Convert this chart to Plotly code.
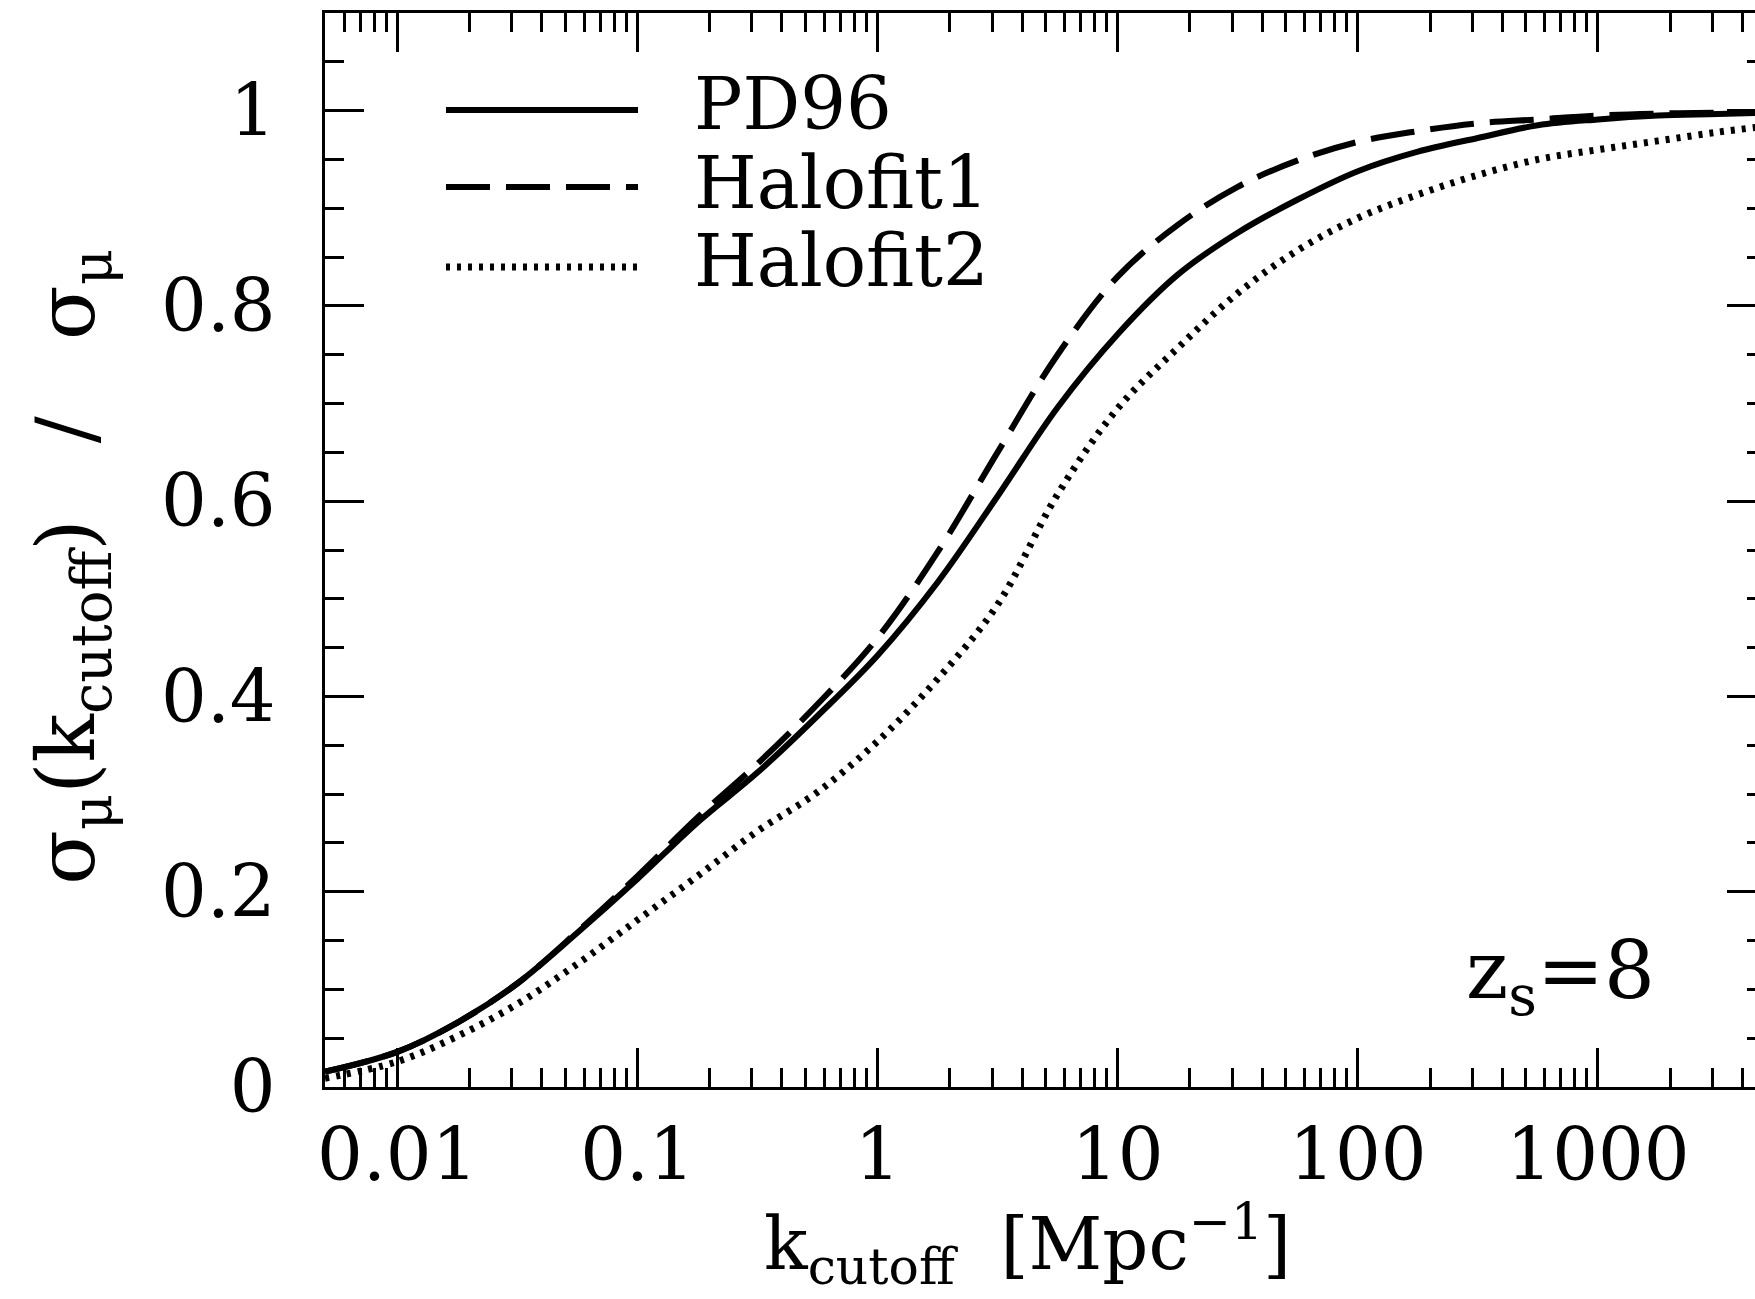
import plotly.graph_objects as go

# k_cutoff values [Mpc^-1]
k_cutoff = [0.005, 0.01, 0.0178, 0.0316, 0.0562, 0.1, 0.178, 0.316, 0.562, 1.0,
            1.78, 3.16, 5.62, 10.0, 17.8, 31.6, 56.2, 100.0, 178.0, 316.0, 562.0,
            1000.0, 1780.0, 3160.0, 5000.0]

pd96 = [0.0157, 0.036, 0.066, 0.106, 0.158, 0.213, 0.271, 0.322, 0.380, 0.442,
        0.517, 0.605, 0.696, 0.771, 0.832, 0.875, 0.909, 0.938, 0.958, 0.972,
        0.985, 0.991, 0.995, 0.9965, 0.998]

halofit1 = [0.0157, 0.036, 0.066, 0.106, 0.159, 0.216, 0.276, 0.331, 0.392, 0.460,
            0.548, 0.650, 0.750, 0.830, 0.883, 0.922, 0.949, 0.968, 0.979, 0.987,
            0.991, 0.995, 0.997, 0.998, 0.998]

halofit2 = [0.009, 0.026, 0.052, 0.085, 0.126, 0.171, 0.216, 0.262, 0.302, 0.354,
            0.418, 0.494, 0.607, 0.695, 0.757, 0.813, 0.857, 0.890, 0.914, 0.934,
            0.950, 0.960, 0.969, 0.978, 0.984]

series_names = ["PD96", "Halofit1", "Halofit2"]
x_tick_vals = [0.01, 0.1, 1, 10, 100, 1000]
x_tick_text = ["0.01", "0.1", "1", "10", "100", "1000"]
x_minor_vals = [m * 10.0 ** e for e in range(-3, 4) for m in range(2, 10)]
y_tick_vals = [0, 0.2, 0.4, 0.6, 0.8, 1.0]
y_tick_text = ["0", "0.2", "0.4", "0.6", "0.8", "1"]
y_minor_vals = [0.05, 0.1, 0.15, 0.25, 0.3, 0.35, 0.45, 0.5, 0.55, 0.65, 0.7, 0.75,
                0.85, 0.9, 0.95, 1.05]

FONT = "DejaVu Serif"
FS = 72
dashes = ["solid", "44px,16px", "4px,7px"]
widths = [6, 6, 7]
X_RANGE = [-2.301, 3.654]
Y_RANGE = [0, 1.1]

fig = go.Figure()
for name, ys, dash, w in zip(series_names, [pd96, halofit1, halofit2], dashes, widths):
    fig.add_trace(go.Scatter(x=k_cutoff, y=ys, mode="lines", name=name,
                             line=dict(color="black", width=w, dash=dash, shape="spline"),
                             showlegend=False, hoverinfo="skip"))

# empty helper traces so that the extra tick-only axes are drawn
for xa, ya in [("x2", "y"), ("x3", "y"), ("x4", "y"), ("x", "y2"), ("x", "y3"), ("x", "y4")]:
    fig.add_trace(go.Scatter(x=[None], y=[None], xaxis=xa, yaxis=ya, showlegend=False,
                             hoverinfo="skip"))

tickfont = dict(family=FONT, size=FS, color="black")


def tick_axis(vals, length, **kw):
    d = dict(tickmode="array", tickvals=vals, showticklabels=False, ticks="inside",
             ticklen=length, tickwidth=3, tickcolor="black", showgrid=False,
             zeroline=False, showline=False)
    d.update(kw)
    return d


fig.update_layout(
    width=1755, height=1299,
    margin=dict(l=325, r=0, t=13, b=212),
    paper_bgcolor="white", plot_bgcolor="white",
    xaxis=dict(type="log", range=X_RANGE, tickmode="array",
               tickvals=x_tick_vals, ticktext=x_tick_text,
               ticks="inside", ticklen=39, tickwidth=3, tickcolor="black",
               showline=True, linewidth=3, linecolor="black", mirror=True,
               showgrid=False, zeroline=False, tickfont=tickfont,
               ticklabelstandoff=4),
    xaxis2=tick_axis(x_minor_vals, 19, type="log", range=X_RANGE, overlaying="x",
                     side="bottom", anchor="y"),
    xaxis3=tick_axis(x_tick_vals, 39, type="log", range=X_RANGE, overlaying="x",
                     side="top", anchor="y"),
    xaxis4=tick_axis(x_minor_vals, 19, type="log", range=X_RANGE, overlaying="x",
                     side="top", anchor="y"),
    yaxis=dict(range=Y_RANGE, tickmode="array", tickvals=y_tick_vals, ticktext=y_tick_text,
               ticks="inside", ticklen=39, tickwidth=3, tickcolor="black",
               showline=True, linewidth=3, linecolor="black", mirror=False,
               showgrid=False, zeroline=False, tickfont=tickfont,
               ticklabelstandoff=32),
    yaxis2=tick_axis(y_tick_vals, 28, range=Y_RANGE, overlaying="y", side="right", anchor="x"),
    yaxis3=tick_axis(y_minor_vals, 19, range=Y_RANGE, overlaying="y", side="left", anchor="x"),
    yaxis4=tick_axis(y_minor_vals, 8, range=Y_RANGE, overlaying="y", side="right", anchor="x"),
)

# legend keys
leg_y = [0.9097, 0.838, 0.7635]
leg_text_y = [0.9153, 0.8417, 0.7691]
for name, dash, w, ly, ty in zip(series_names, dashes, widths, leg_y, leg_text_y):
    fig.add_shape(type="line", xref="paper", yref="paper", x0=0.0846, x1=0.2189, y0=ly, y1=ly,
                  line=dict(color="black", width=w, dash=dash))
    fig.add_annotation(xref="paper", yref="paper", x=0.2566, y=ty, text=name, showarrow=False,
                       xanchor="left", yanchor="middle",
                       font=dict(family=FONT, size=FS, color="black"))

fig.add_annotation(xref="paper", yref="paper", x=0.9315, y=0.1036, text="z<sub>s</sub>=8",
                   showarrow=False, xanchor="right", yanchor="middle",
                   font=dict(family=FONT, size=80, color="black"))

fig.add_annotation(xref="paper", yref="paper", x=0.491, y=-0.1465,
                   text="k<sub>cutoff</sub>  [Mpc<sup>−1</sup>]",
                   showarrow=False, xanchor="center", yanchor="middle",
                   font=dict(family=FONT, size=FS, color="black"))

fig.add_annotation(xref="paper", yref="paper", x=-0.1765, y=0.484,
                   text="σ<sub>μ</sub>(k<sub>cutoff</sub>)   /   σ<sub>μ</sub>",
                   textangle=-90, showarrow=False, xanchor="center", yanchor="middle",
                   font=dict(family=FONT, size=80, color="black"))

fig.write_html("out.html")
